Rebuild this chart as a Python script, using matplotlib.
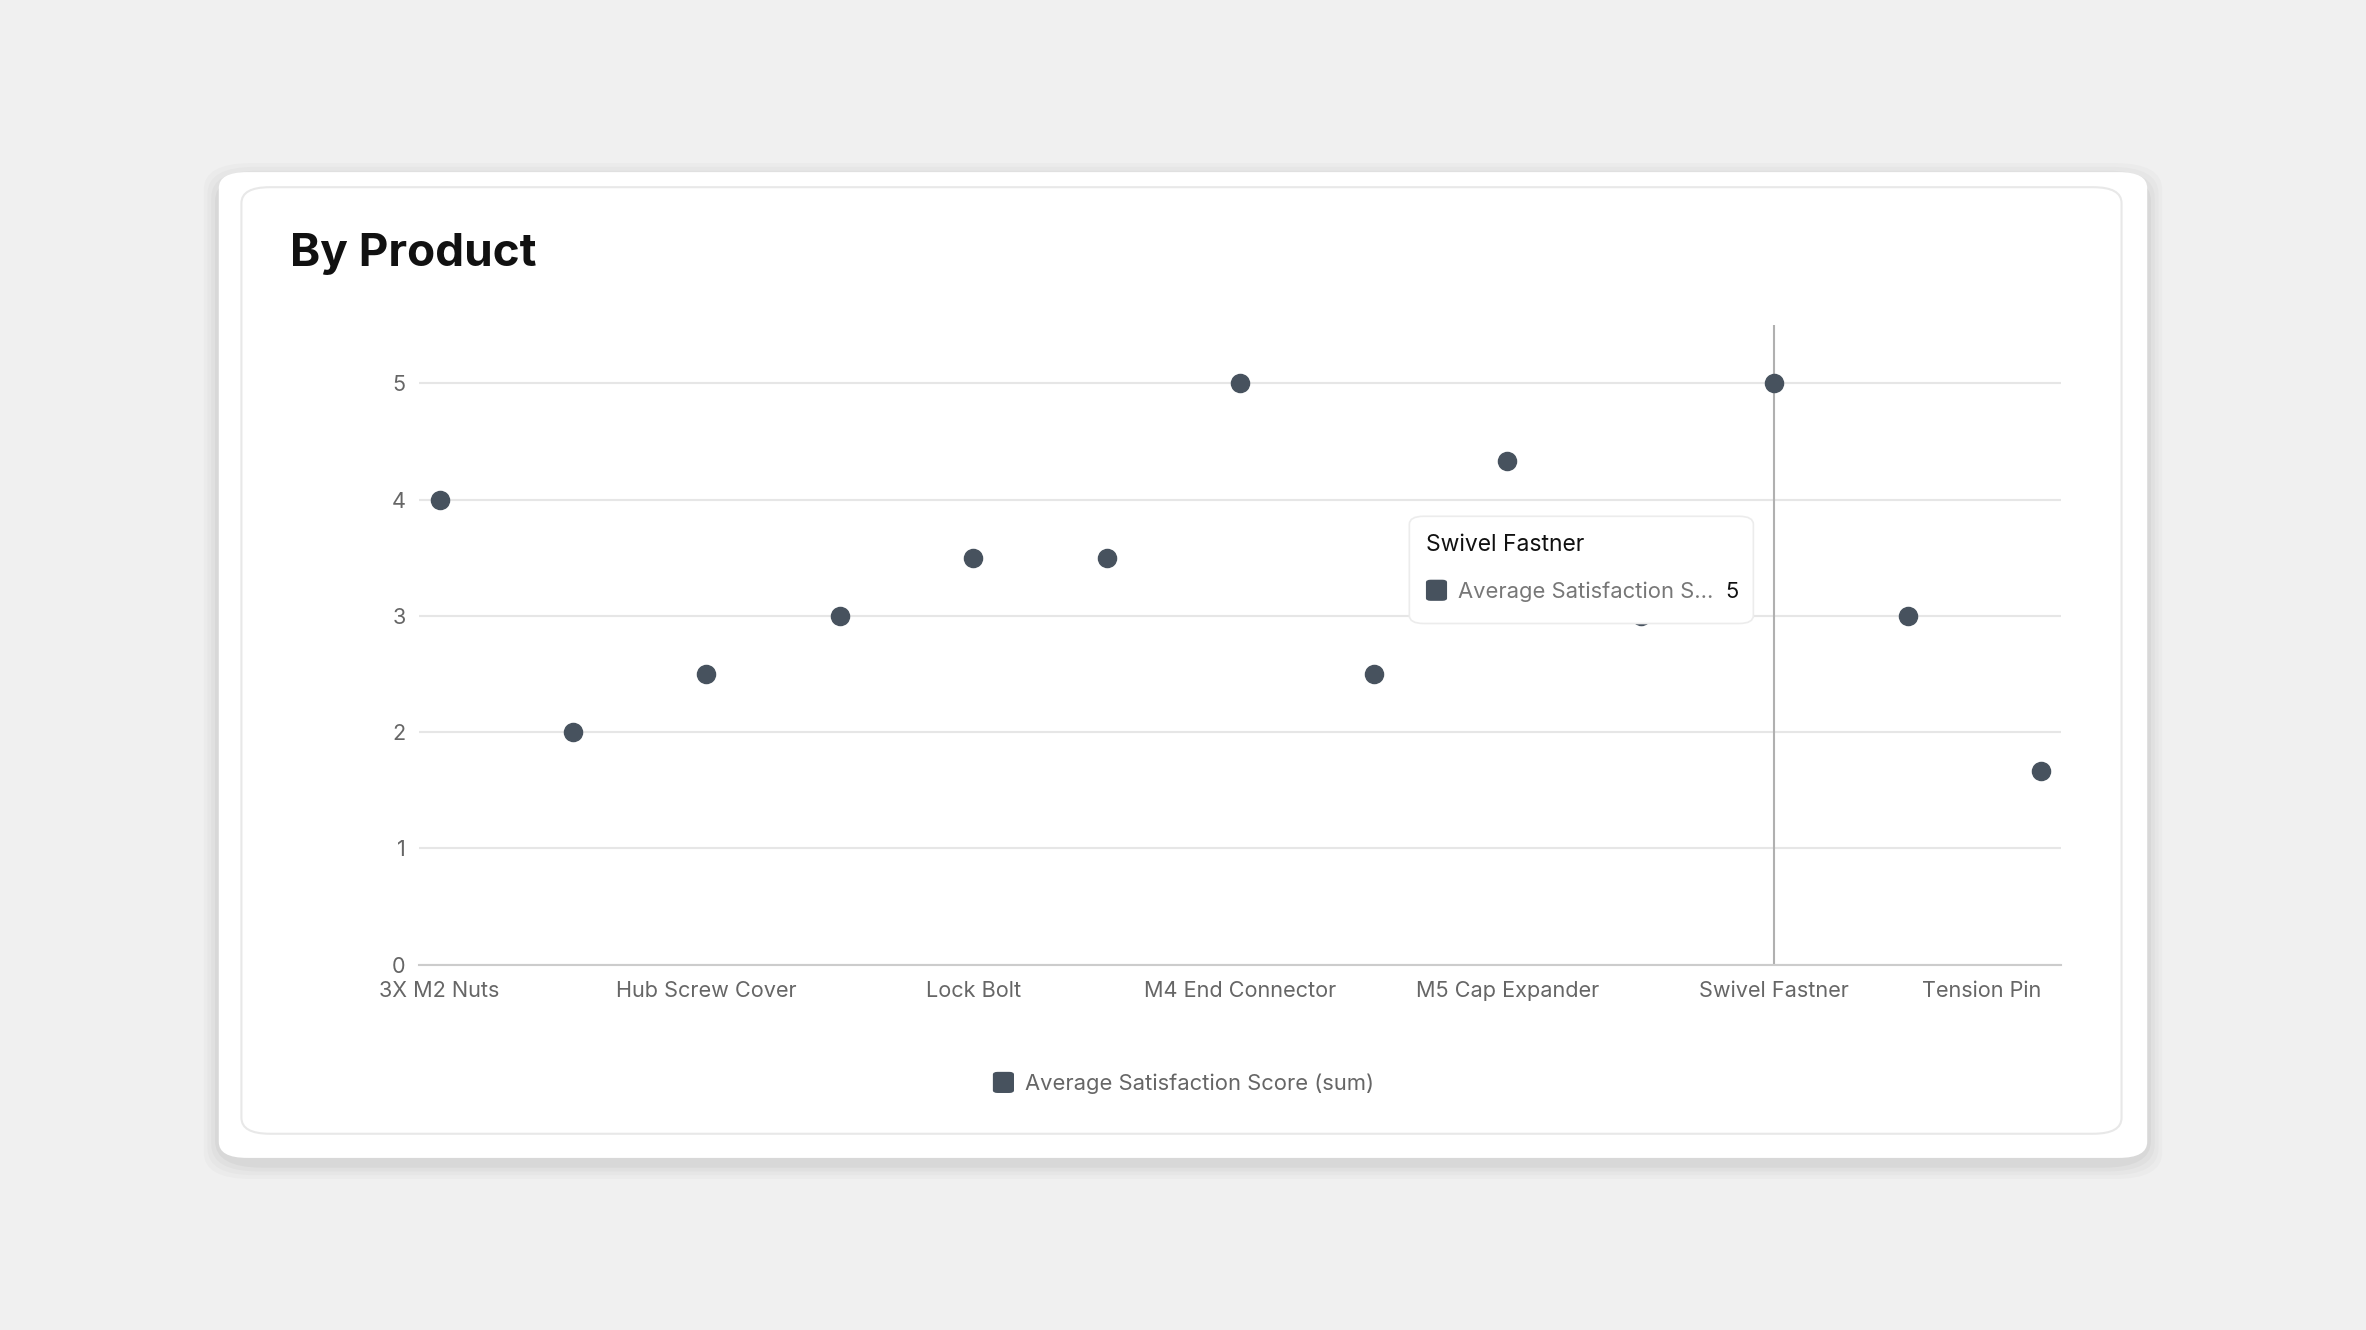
import matplotlib
matplotlib.use('Agg')
import matplotlib.pyplot as plt
from matplotlib.patches import FancyBboxPatch
import numpy as np

plt.rcParams['font.family'] = ['Inter', 'DejaVu Sans']

# data
products = ['3X M2 Nuts', 'Hex Bolt', 'Hub Screw Cover', 'Hinge Pin', 'Lock Bolt',
            'Lock Washer', 'M4 End Connector', 'M4 Nut', 'M5 Cap Expander',
            'Spring Clip', 'Swivel Fastner', 'T-Bolt', 'Tension Pin']
scores = [4, 2, 2.5, 3, 3.5, 3.5, 5, 2.5, 4.33, 3, 5, 3, 1.67]
yticks = [0, 1, 2, 3, 4, 5]
hover_idx = 10

W, H = 1568, 881  # layout units (reference display size)
def fx(x): return x / W
def fy(y): return 1 - y / H

fig = plt.figure(figsize=(23.66, 13.30), dpi=100, facecolor='#f0f0f0')

# card shadow + card
for i, a in enumerate([0.02, 0.02, 0.025, 0.03]):
    g = 10 - i * 2.5
    fig.patches.append(FancyBboxPatch((fx(145 - g), fy(767 + g + 4)), fx(1278 + 2 * g), (653 + 2 * g) / H,
                                      boxstyle='round,pad=0,rounding_size=0.02', transform=fig.transFigure,
                                      facecolor='black', edgecolor='none', alpha=a, zorder=0))
fig.patches.append(FancyBboxPatch((fx(145), fy(767)), fx(1278), 653 / H,
                                  boxstyle='round,pad=0,rounding_size=0.012', transform=fig.transFigure,
                                  facecolor='white', edgecolor='none', zorder=1))
fig.patches.append(FancyBboxPatch((fx(160), fy(751)), fx(1246), 627 / H,
                                  boxstyle='round,pad=0,rounding_size=0.012', transform=fig.transFigure,
                                  facecolor='white', edgecolor='#e8e8e8', linewidth=1.5, zorder=1))

fig.text(fx(192), fy(168), 'By Product', fontsize=33, fontweight='bold', color='#111111',
         ha='left', va='center', zorder=3)

ax = fig.add_axes([fx(278), fy(639), fx(1088), 423.5 / H], zorder=2)
ax.set_facecolor('none')
x = np.arange(len(products))
ax.axvline(hover_idx, color='#b0b0b0', linewidth=1.5, zorder=1)
ax.scatter(x, scores, s=170, color='#47525e', zorder=3)
ax.set_xlim(-0.15, 12.15)
ax.set_ylim(0, 5.5)
ax.set_yticks(yticks)
ax.set_yticklabels([str(v) for v in yticks])
ax.set_xticks(x[::2])
ax.set_xticklabels(products[::2])
ax.grid(axis='y', color='#e6e6e6', linewidth=1.5)
ax.set_axisbelow(True)
for s in ['top', 'right', 'left']:
    ax.spines[s].set_visible(False)
ax.spines['bottom'].set_color('#cccccc')
ax.spines['bottom'].set_linewidth(1.5)
ax.tick_params(length=0, labelsize=15.6, colors='#666666', pad=12)
ax.tick_params(axis='y', pad=10)
last = ax.get_xticklabels()[-1]
last.set_horizontalalignment('right')
last.set_x(12.2)

# tooltip
fig.patches.append(FancyBboxPatch((fx(934), fy(413)), fx(228), 71 / H,
                                  boxstyle='round,pad=0,rounding_size=0.006', transform=fig.transFigure,
                                  facecolor='white', edgecolor='#ececec', linewidth=1.2, zorder=5))
fig.text(fx(945), fy(361), products[hover_idx], fontsize=16.5, color='#111111', ha='left', va='center', zorder=6)
fig.patches.append(FancyBboxPatch((fx(945), fy(398)), fx(14), 14 / H,
                                  boxstyle='round,pad=0,rounding_size=0.002', transform=fig.transFigure,
                                  facecolor='#47525e', edgecolor='none', zorder=6))
fig.text(fx(966), fy(392), 'Average Satisfaction S...', fontsize=15.8, color='#777777',
         ha='left', va='center', zorder=6)
fig.text(fx(1152), fy(392), str(scores[hover_idx]), fontsize=15.8, color='#111111',
         ha='right', va='center', zorder=6)

# legend
fig.patches.append(FancyBboxPatch((fx(658), fy(724)), fx(14), 14 / H,
                                  boxstyle='round,pad=0,rounding_size=0.002', transform=fig.transFigure,
                                  facecolor='#47525e', edgecolor='none', zorder=3))
fig.text(fx(679), fy(718), 'Average Satisfaction Score (sum)', fontsize=15.8, color='#666666',
         ha='left', va='center', zorder=3)

fig.savefig('out.png', dpi=100, facecolor=fig.get_facecolor())
